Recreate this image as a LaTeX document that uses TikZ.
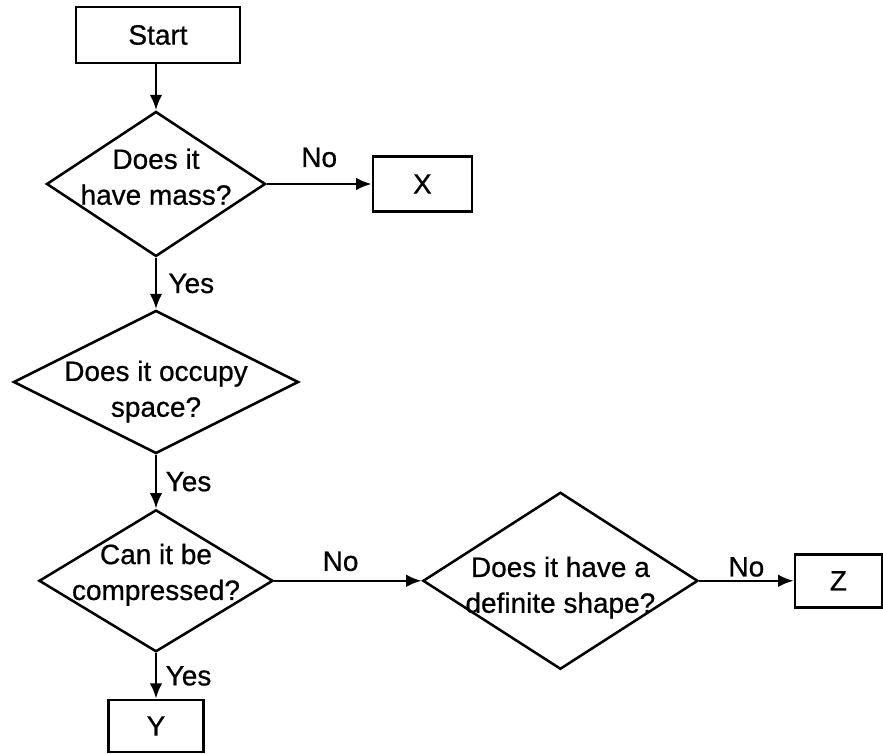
\documentclass[tikz,border=0pt]{standalone}
\usepackage{fontspec}
\setmainfont{Liberation Sans}[FakeBold=0.7]
\usetikzlibrary{arrows.meta, shapes.geometric}

\begin{document}
\begin{tikzpicture}[line width=1.8pt, >={Latex[length=11pt, width=9pt]}, font=\fontsize{19.9}{25.5}\selectfont]
\tikzstyle{box}=[rectangle, draw, inner sep=0pt]
\tikzstyle{query}=[diamond, draw, inner sep=0pt]
\tikzstyle{lbl}=[inner sep=2pt]
\useasboundingbox (0,0) rectangle (22.075,18.85);

\node[box, minimum width=4.1cm, minimum height=1.4cm] (start) at (3.95,17.975) {Start};
\node[query, minimum width=5.475cm, minimum height=3.625cm,
  label={[align=center, yshift=0.18cm]center:Does it\\have mass?}] (mass) at (3.9,14.25) {};
\node[box, minimum width=2.475cm, minimum height=1.375cm] (x) at (10.56,14.25) {X};
\node[query, minimum width=7.125cm, minimum height=3.575cm,
  label={[align=center, yshift=-0.24cm]center:Does it occupy\\space?}] (space) at (3.9,9.3) {};
\node[query, minimum width=5.85cm, minimum height=3.55cm,
  label={[align=center, yshift=0.15cm]center:Can it be\\compressed?}] (press) at (3.9,4.33) {};
\node[query, minimum width=6.875cm, minimum height=4.425cm,
  label={[align=center, yshift=-0.17cm]center:Does it have a\\definite shape?}] (shape) at (14.01,4.33) {};
\node[box, minimum width=2.175cm, minimum height=1.325cm] (z) at (20.96,4.33) {Z};
\node[box, minimum width=2.375cm, minimum height=1.3cm] (y) at (3.9,0.7) {Y};

\path[->]
(start.south -| mass.north) edge (mass)
(mass) edge node[lbl, above=9pt] (nomass) {No} (x)
       edge node[lbl, right=6pt] (yesmass) {Yes} (space)
(space) edge node[lbl, right=4pt] (yesspace) {Yes} (press)
(press) edge node[lbl, above=4pt, pos=.45] (nopress) {No} (shape)
        edge node[lbl, right=4pt] (yespress) {Yes} (y)
(shape) edge node[lbl, above] (noshape) {No} (z);

\end{tikzpicture}
\end{document}
